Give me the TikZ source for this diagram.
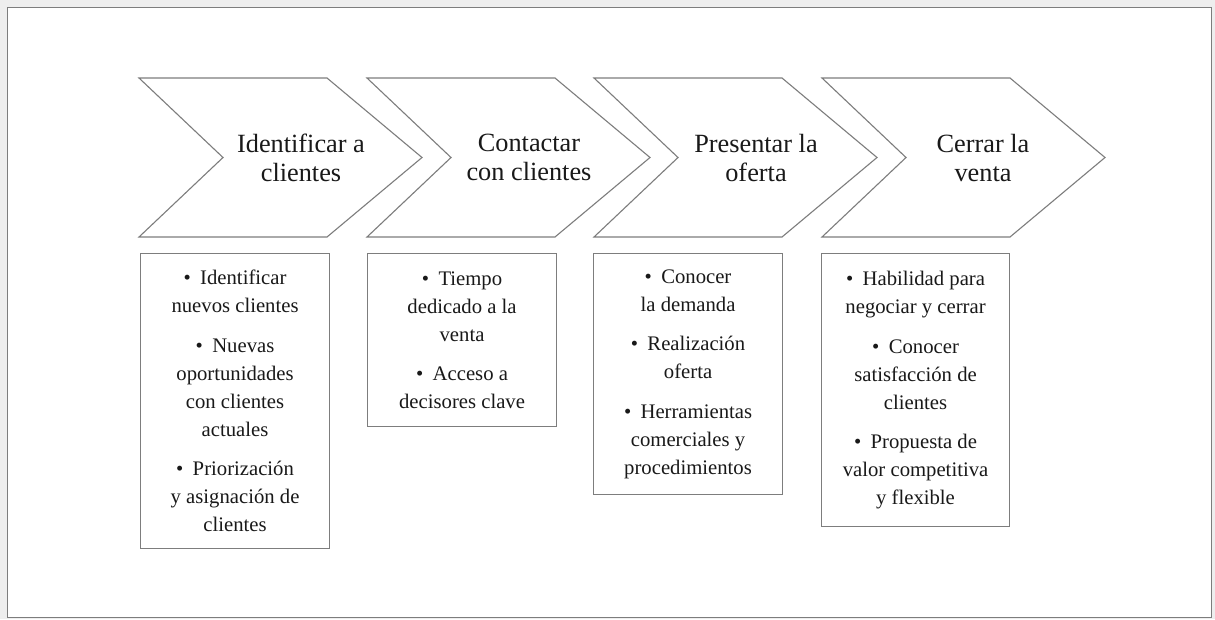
\documentclass[tikz,border=0pt]{standalone}
\usepackage{fontspec}
\setmainfont{Liberation Serif}
\definecolor{linegray}{RGB}{125,125,125}
\definecolor{bggray}{RGB}{238,238,238}
\definecolor{txt}{RGB}{25,25,25}
\newcommand\bul{\textbullet\hspace{0.45em}}
\begin{document}
\begin{tikzpicture}[x=1pt,y=-1pt,
  chev/.style={draw=linegray, line width=1.1pt, fill=white, line join=miter},
  headtxt/.style={align=center, font=\fontsize{26.3}{29}\selectfont, text=txt, inner sep=0pt},
  listbox/.style={draw=linegray, line width=1.1pt, fill=white, align=center, text=txt,
    font=\fontsize{20.7}{28}\selectfont, minimum width=189pt, inner sep=0pt, anchor=north west},
]
\useasboundingbox (0,0) rectangle (1215,619);
\fill[bggray] (0,0) rectangle (1215,619);
\draw[linegray, line width=1pt, fill=white] (7,7) rectangle (1211,617);

% chevrons
\foreach \L in {139,367,594,822}{
  \draw[chev] (\L,78) -- (\L+188,78) -- (\L+283,157.5) -- (\L+188,237) -- (\L,237) -- (\L+84,157.5) -- cycle;
}

\node[headtxt] (h1) at (301,157.5) {Identificar a\\clientes};
\node[headtxt] (h2) at (529,157.5) {Contactar\\con clientes};
\node[headtxt] (h3) at (756,157.5) {Presentar la\\oferta};
\node[headtxt] (h4) at (983,157.5) {Cerrar la\\venta};

\node[listbox, minimum height=295pt] (b1) at (140,253) {\bul Identificar\\nuevos clientes\\[11.5pt]
  \bul Nuevas\\oportunidades\\con clientes\\actuales\\[11.5pt]
  \bul Priorización\\y asignación de\\clientes};
\node[listbox, minimum height=173pt] (b2) at (367,253) {\bul Tiempo\\dedicado a la\\venta\\[11.5pt]
  \bul Acceso a\\decisores clave};
\node[listbox, minimum height=241pt] (b3) at (593,253) {\bul Conocer\\la demanda\\[11.5pt]
  \bul Realización\\oferta\\[11.5pt]
  \bul Herramientas\\comerciales y\\procedimientos};
\node[listbox, minimum height=273pt, minimum width=188pt] (b4) at (821,253) {\bul Habilidad para\\negociar y cerrar\\[11.5pt]
  \bul Conocer\\satisfacción de\\clientes\\[11.5pt]
  \bul Propuesta de\\valor competitiva\\y flexible};
\end{tikzpicture}
\end{document}
